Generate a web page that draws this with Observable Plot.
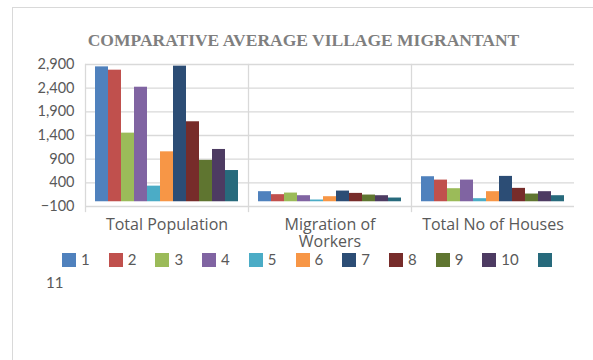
<!DOCTYPE html>
<html>
<head>
<meta charset="utf-8">
<script src="https://cdn.jsdelivr.net/npm/d3@7"></script>
<script src="https://cdn.jsdelivr.net/npm/@observablehq/plot@0.6"></script>
<style>
  html, body { margin: 0; padding: 0; background: #ffffff; }
  #wrap { position: relative; width: 593px; height: 360px; overflow: hidden; background: #fff; }
  #border { position: absolute; left: 12px; top: 7px; width: 620px; height: 420px; border: 1px solid #d9d9d9; box-sizing: border-box; }
  #title { position: absolute; left: 0; width: 607px; top: 30px; text-align: center;
           font-family: "Liberation Serif", serif; font-weight: bold; font-size: 17.5px; color: #7f7f7f; white-space: nowrap; }
  #chart { position: absolute; left: 0; top: 0; }
  #legend { position: absolute; left: 46px; top: 247.5px; width: 519px; font-size: 0; text-indent: 16px;
            font-family: Lato, sans-serif; color: #595959; }
  #legend .sw { display: inline-block; width: 14px; height: 14px; margin-right: 5px; vertical-align: -2px; text-indent: 0; }
  #legend .lb { display: inline-block; font-size: 15px; line-height: 23px; margin-right: 19px; text-indent: 0; }
</style>
</head>
<body>
<div id="wrap">
  <div id="border"></div>
  <div id="title"></div>
  <div id="chart"></div>
  <div id="legend"></div>
</div>
<script>
const title = "COMPARATIVE AVERAGE VILLAGE MIGRANTANT";
const categories = ["Total Population", "Migration of Workers", "Total No of Houses"];
const categoryLabels = ["Total Population", "Migration of\nWorkers", "Total No of Houses"];
const series = ["1", "2", "3", "4", "5", "6", "7", "8", "9", "10", "11"];
const totalPopulation = [2850, 2780, 1450, 2420, 330, 1055, 2865, 1690, 875, 1105, 660];
const migrationOfWorkers = [213, 150, 184, 128, 37, 107, 226, 177, 142, 128, 79];
const totalNoOfHouses = [529, 458, 276, 458, 65, 213, 536, 283, 163, 213, 128];
const yTicks = [-100, 400, 900, 1400, 1900, 2400, 2900];
const colors = ["#4F81BD", "#C0504D", "#9BBB59", "#8064A2", "#4BACC6", "#F79646",
                "#2C4D75", "#772C2A", "#5F7530", "#4D3B62", "#276A7C"];

const valuesByCategory = [totalPopulation, migrationOfWorkers, totalNoOfHouses];
const data = [];
categories.forEach((c, i) => {
  series.forEach((s, j) => data.push({category: c, series: s, value: valuesByCategory[i][j]}));
});

document.getElementById("title").textContent = title;

const chart = Plot.plot({
  width: 593,
  height: 250,
  marginLeft: 84,
  marginRight: 18,
  marginTop: 64,
  marginBottom: 44,
  style: {fontFamily: "Lato, sans-serif", background: "transparent", overflow: "visible"},
  fx: {domain: categories, padding: 0, label: null},
  x: {domain: series, paddingInner: 0, paddingOuter: 0.5, axis: null},
  y: {domain: [-100, 2900], axis: null},
  color: {domain: series, range: colors},
  marks: [
    Plot.gridY(yTicks, {stroke: "#d9d9d9", strokeOpacity: 1, strokeWidth: 1.3}),
    Plot.frame({anchor: "left", stroke: "#d9d9d9", strokeWidth: 1.3, insetBottom: -5}),
    Plot.barY(data, {fx: "category", x: "series", y1: 0, y2: "value", fill: "series"}),
    Plot.axisY({ticks: yTicks, tickSize: 0, tickPadding: 11, tickFormat: d3.format(","),
                fontSize: 14.5, color: "#595959", label: null}),
    Plot.axisFx({anchor: "bottom", tickSize: 0, tickPadding: 11, fontSize: 16, color: "#595959",
                 fontFamily: "Open Sans, sans-serif",
                 lineHeight: 1.08, label: null,
                 tickFormat: d => categoryLabels[categories.indexOf(d)]})
  ]
});
document.getElementById("chart").appendChild(chart);

const legend = document.getElementById("legend");
series.forEach((s, j) => {
  const sw = document.createElement("span");
  sw.className = "sw";
  sw.style.background = colors[j];
  legend.appendChild(sw);
  legend.appendChild(document.createTextNode(" "));
  const lb = document.createElement("span");
  lb.className = "lb";
  lb.textContent = s;
  legend.appendChild(lb);
  legend.appendChild(document.createTextNode(" "));
});
</script>
</body>
</html>
